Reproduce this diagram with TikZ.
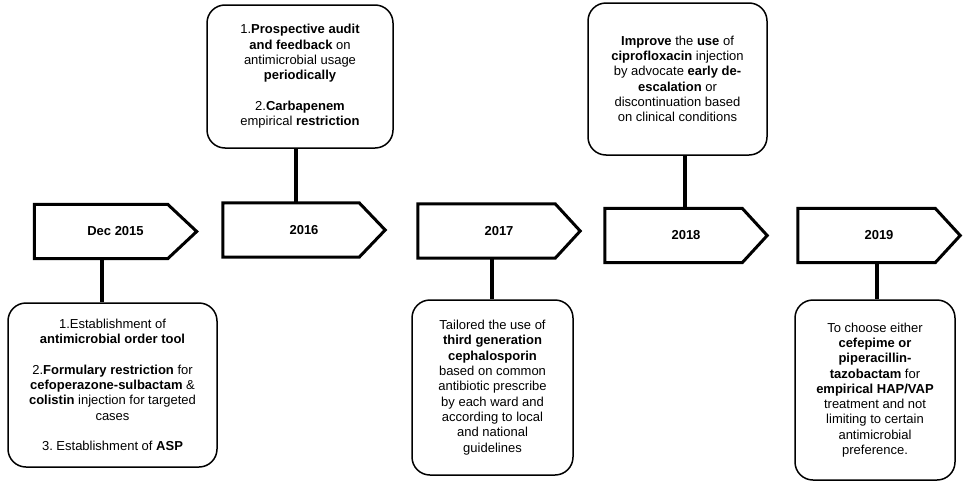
\documentclass[tikz,border=0pt]{standalone}
\usepackage{fontspec}
\setmainfont{Liberation Sans}
\usetikzlibrary{calc}
\frenchspacing
\tikzset{
  yearbox/.style={minimum width=162pt, minimum height=54pt, inner sep=0pt, font=\fontsize{13}{15.3}\selectfont\bfseries},
  yearshape/.style={line width=3pt, line join=miter},
  notebox/.style={draw, line width=1.5pt, rounded corners=18pt, align=center, inner sep=4pt, font=\fontsize{13}{15.3}\selectfont},
  conn/.style={line width=4pt},
}
\newcommand\pentshape[2]{%
  \draw[yearshape] (#1.north west) -- ($(#1.north east)+(-#2,0)$) -- (#1.east) -- ($(#1.south east)+(-#2,0)$) -- (#1.south west) -- cycle;}
\begin{document}
\begin{tikzpicture}[x=1pt,y=-1pt]
\fill[white] (0,0) rectangle (963,482);
\useasboundingbox (0,0) rectangle (963,482);

% year markers
\node[yearbox] (a1) at (115.5,231.5) {Dec 2015};
\node[yearbox] (a2) at (304,230) {2016};
\node[yearbox] (a3) at (499,231) {2017};
\node[yearbox] (a4) at (686,235.5) {2018};
\node[yearbox] (a5) at (879,235.5) {2019};

% notes
\node[notebox, minimum width=209pt, minimum height=164pt] (b1) at (112.5,385) {1.Establishment of\\ \textbf{antimicrobial order tool}\\[15.3pt] 2.\textbf{Formulary restriction} for\\ \textbf{cefoperazone-sulbactam} \&\\ \textbf{colistin} injection for targeted\\ cases\\[15.3pt] 3. Establishment of \textbf{ASP}};
\node[notebox, minimum width=186pt, minimum height=143pt] (b2) at (300,76.5) {1.\textbf{Prospective audit}\\ \textbf{and feedback} on\\ antimicrobial usage\\ \textbf{periodically}\\[15.3pt] 2.\textbf{Carbapenem}\\ empirical \textbf{restriction}};
\node[notebox, minimum width=161pt, minimum height=175pt] (b3) at (492.5,387.5) {Tailored the use of\\ \textbf{third generation}\\ \textbf{cephalosporin}\\ based on common\\ antibiotic prescribe\\ by each ward and\\ according to local\\ and national\\ guidelines};
\node[notebox, minimum width=179pt, minimum height=152pt] (b4) at (677.5,79) {\textbf{Improve} the \textbf{use} of\\ \textbf{ciprofloxacin} injection\\ by advocate \textbf{early de-}\\ \textbf{escalation} or\\ discontinuation based\\ on clinical conditions};
\node[notebox, minimum width=160pt, minimum height=180pt] (b5) at (875,390) {To choose either\\ \textbf{cefepime or}\\ \textbf{piperacillin-}\\ \textbf{tazobactam} for\\ \textbf{empirical HAP/VAP}\\ treatment and not\\ limiting to certain\\ antimicrobial\\ preference.};

% connector positions
\coordinate (c1) at (102,0);
\coordinate (c2) at (296,0);
\coordinate (c3) at (492,0);
\coordinate (c4) at (685,0);
\coordinate (c5) at (877,0);

\draw[conn] (a1.south -| c1) -- (b1.north -| c1);
\draw[conn] (b2.south -| c2) -- (a2.north -| c2);
\draw[conn] (a3.south -| c3) -- (b3.north -| c3);
\draw[conn] (b4.south -| c4) -- (a4.north -| c4);
\draw[conn] (a5.south -| c5) -- (b5.north -| c5);

\pentshape{a1}{29}
\pentshape{a2}{26}
\pentshape{a3}{25}
\pentshape{a4}{25}
\pentshape{a5}{25}
\end{tikzpicture}
\end{document}
